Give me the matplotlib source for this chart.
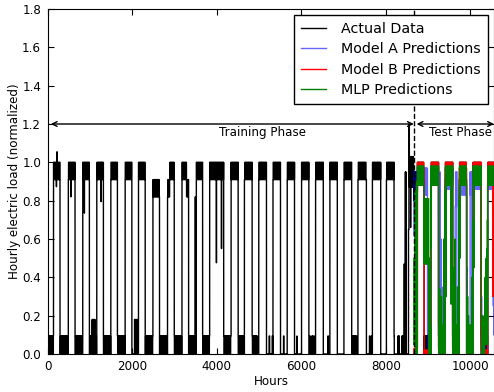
import numpy as np
import matplotlib
matplotlib.use("Agg")
import matplotlib.pyplot as plt

# ---- data (hours, normalized load) ----
n_hours = 10565
split_hour = 8666

# hour-of-day profile: 1 = daytime level, 0 = night level
day_profile = [0, 0, 0, 0, 0, 0, 0, 1, 1, 1, 1, 1, 1, 1, 1, 1, 1, 1, 1, 0, 0, 0, 0, 0]

# high-load weeks (start, end, night level, day level)
high_weeks = [
    (131, 285, 0.91, 1.0), (482, 641, 0.91, 1.0), (824, 981, 0.91, 1.0),
    (1156, 1313, 0.91, 1.0), (1489, 1645, 0.91, 1.0), (1828, 1987, 0.91, 1.0),
    (2144, 2303, 0.91, 1.0), (2486, 2642, 0.82, 0.91), (2832, 2880, 0.82, 0.91),
    (2880, 2991, 0.91, 1.0), (3174, 3280, 0.91, 1.0), (3280, 3331, 0.82, 0.91),
    (3514, 3663, 0.91, 1.0), (3830, 4162, 0.91, 1.0), (4338, 4505, 0.91, 1.0),
    (4653, 4836, 0.91, 1.0), (4993, 5176, 0.91, 1.0), (5330, 5508, 0.91, 1.0),
    (5667, 5840, 0.91, 1.0), (6007, 6180, 0.91, 1.0), (6339, 6522, 0.91, 1.0),
    (6678, 6854, 0.91, 1.0), (7011, 7194, 0.91, 1.0), (7343, 7543, 0.91, 1.0),
    (7685, 7882, 0.91, 1.0), (8017, 8198, 0.91, 1.0),
    (8466, 8480, 0.0, 0.95), (8540, 8560, 0.65, 1.2), (8560, 8666, 0.87, 1.03),
    (8666, 8753, 0.80, 0.95),
    (8753, 8910, 0.91, 1.0), (9069, 9252, 0.91, 1.0), (9409, 9585, 0.91, 1.0),
    (9741, 9917, 0.91, 1.0), (10074, 10257, 0.91, 1.0), (10415, 10565, 0.91, 1.0),
]

# low weeks with visible night/day swing (start, end, night, day); elsewhere flat 0
low_weeks = [
    (0, 131, 0.0, 0.094), (285, 482, 0.0, 0.094), (641, 824, 0.0, 0.094),
    (981, 1045, 0.0, 0.094), (1045, 1115, 0.0, 0.18), (1115, 1156, 0.0, 0.094),
    (1313, 1489, 0.0, 0.094), (1645, 1828, 0.0, 0.094), (2050, 2120, 0.0, 0.18),
    (2120, 2144, 0.0, 0.094), (2303, 2486, 0.0, 0.094), (2642, 2832, 0.0, 0.094),
    (2991, 3174, 0.0, 0.094), (3331, 3514, 0.0, 0.094), (3663, 3830, 0.0, 0.094),
    (4162, 4338, 0.0, 0.094), (4505, 4653, 0.0, 0.094), (4836, 4960, 0.0, 0.094),
    (5230, 5260, 0.0, 0.094), (5310, 5330, 0.0, 0.094), (5580, 5592, 0.0, 0.094),
    (5898, 5910, 0.0, 0.094), (6204, 6222, 0.0, 0.094), (6250, 6290, 0.0, 0.094),
    (6320, 6339, 0.0, 0.094), (6632, 6650, 0.0, 0.094), (7194, 7313, 0.0, 0.094),
    (7605, 7630, 0.0, 0.094), (7660, 7685, 0.0, 0.094), (8198, 8215, 0.0, 0.094),
    (8290, 8330, 0.0, 0.094), (8380, 8436, 0.0, 0.094),
    (8910, 9069, 0.0, 0.094), (9252, 9409, 0.0, 0.094), (9585, 9741, 0.0, 0.094),
    (9917, 10074, 0.0, 0.094), (10257, 10415, 0.0, 0.094),
]

# single-hour spikes and dips in the actual data (hour, value)
actual_spikes = [(200, 0.873), (214, 1.055), (546, 0.82), (862, 0.735),
                 (1258, 0.795), (3490, 0.82), (3990, 0.476), (4110, 0.55),
                 (8440, 0.47), (8590, 0.66)]

# model predictions over the test period (start, end, night, day)
model_a_bands = [
    (8666, 8753, 0.62, 0.95), (8753, 8910, 0.88, 0.97), (8910, 8990, 0.83, 0.97),
    (8990, 9069, 0.0, 0.04), (9069, 9252, 0.88, 0.97), (9252, 9409, 0.0, 0.04),
    (9409, 9585, 0.86, 0.97), (9585, 9645, 0.0, 0.04), (9645, 9685, 0.77, 0.95),
    (9685, 9741, 0.0, 0.04), (9741, 9917, 0.83, 0.95), (9917, 10000, 0.0, 0.04),
    (10000, 10040, 0.83, 0.95), (10040, 10074, 0.0, 0.04), (10074, 10257, 0.86, 0.97),
    (10257, 10415, 0.0, 0.05), (10415, 10565, 0.86, 0.97),
]
model_a_spikes = [(9005, 0.70), (9020, 0.45), (9040, 0.39), (9055, 0.25),
                  (9270, 0.79), (9290, 0.95), (9310, 0.6), (9330, 0.35),
                  (9600, 0.3), (9930, 0.45), (9950, 0.2), (10270, 0.3),
                  (10550, 0.25), (10560, 0.1)]

model_b_bands = [
    (8666, 8753, 0.0, 0.03), (8753, 8910, 0.97, 1.0), (8910, 9069, 0.0, 0.02),
    (9069, 9252, 0.97, 1.0), (9252, 9409, 0.0, 0.02), (9409, 9585, 0.97, 1.0),
    (9585, 9741, 0.0, 0.02), (9741, 9917, 0.97, 1.0), (9917, 10074, 0.0, 0.02),
    (10074, 10257, 0.97, 1.0), (10257, 10415, 0.0, 0.02), (10415, 10565, 0.97, 1.0),
]
model_b_spikes = [(10540, 0.3)]

mlp_bands = [
    (8666, 8713, 0.05, 0.5), (8713, 8753, 0.0, 0.85), (8753, 8910, 0.88, 0.98),
    (8910, 9030, 0.47, 0.81), (9030, 9069, 0.0, 0.15), (9069, 9252, 0.88, 0.98),
    (9252, 9409, 0.0, 0.15), (9409, 9585, 0.88, 0.98), (9585, 9741, 0.0, 0.15),
    (9741, 9917, 0.88, 0.98), (9917, 10074, 0.0, 0.15), (10074, 10257, 0.88, 0.98),
    (10257, 10340, 0.0, 0.15), (10340, 10415, 0.05, 0.4), (10415, 10565, 0.88, 0.98),
]
mlp_spikes = [(8700, 0.85), (8730, 0.9), (8745, 0.3), (9035, 0.5), (9050, 0.3),
              (9080, 0.55), (9280, 0.34), (9300, 0.2), (9320, 0.3), (9380, 0.6),
              (9400, 0.85), (9430, 0.3), (9550, 0.26), (9600, 0.45), (9620, 0.25),
              (9640, 0.6), (9700, 0.35), (9730, 0.8), (9760, 0.5), (9940, 0.3),
              (9960, 0.2), (10040, 0.4), (10060, 0.7), (10090, 0.45),
              (10300, 0.2), (10380, 0.5), (10400, 0.55), (10410, 0.7)]


def build(hours, bands, start_value=0.0):
    y = np.full(len(hours), start_value)
    prof = np.array(day_profile)[hours % 24]
    for s, e, lo, hi in bands:
        m = (hours >= s) & (hours < e)
        y[m] = np.where(prof[m] == 1, hi, lo)
    return y


def add_spikes(hours, y, spikes):
    for h, v in spikes:
        y[np.searchsorted(hours, h)] = v
    return y


hours = np.arange(n_hours)
actual = add_spikes(hours, build(hours, low_weeks + high_weeks), actual_spikes)

th = hours[hours >= split_hour]
model_a = add_spikes(th, build(th, model_a_bands), model_a_spikes)
model_b = add_spikes(th, build(th, model_b_bands), model_b_spikes)
mlp = add_spikes(th, build(th, mlp_bands), mlp_spikes)

# ---- plot ----
plt.rcParams['font.family'] = 'DejaVu Sans'
plt.rcParams['font.size'] = 8.6
plt.rcParams['path.simplify'] = False
fig = plt.figure(figsize=(4.94, 3.92), dpi=100)
ax = fig.add_axes([48 / 494, 38 / 392, 446 / 494, 345 / 392])

ax.plot(hours, actual, color='black', lw=1, label='Actual Data')
ax.plot(th, model_a, color='blue', lw=1, alpha=0.6, label='Model A Predictions')
ax.plot(th, model_b, color='red', lw=1, label='Model B Predictions')
ax.plot(th, mlp, color='green', lw=1, label='MLP Predictions')

ax.axvline(split_hour, color='black', ls='--', lw=1)
ax.annotate('', xy=(0, 1.2), xytext=(split_hour, 1.2),
            arrowprops=dict(arrowstyle='<->', color='black', lw=1,
                            shrinkA=0, shrinkB=2))
ax.annotate('', xy=(split_hour, 1.2), xytext=(n_hours, 1.2),
            arrowprops=dict(arrowstyle='<->', color='black', lw=1,
                            shrinkA=0, shrinkB=2), annotation_clip=False)
ax.text(5070, 1.19, 'Training Phase', ha='center', va='top')
ax.text(9030, 1.19, 'Test Phase', ha='left', va='top', clip_on=False)

ax.set_xlim(0, n_hours)
ax.set_ylim(0, 1.8)
ax.set_xticks([0, 2000, 4000, 6000, 8000, 10000])
ax.set_yticks(np.arange(0, 1.81, 0.2))
ax.yaxis.set_major_formatter(matplotlib.ticker.FormatStrFormatter('%.1f'))
ax.tick_params(direction='in', top=True, right=True, length=4)
ax.tick_params(axis='x', pad=4)
ax.tick_params(axis='y', pad=5)
ax.set_xlabel('Hours', labelpad=2)
ax.set_ylabel('Hourly electric load (normalized)', labelpad=1)

leg = ax.legend(loc='upper right', fontsize=10.3, fancybox=False,
                edgecolor='black', framealpha=1, handlelength=1.7,
                handletextpad=1.1, labelspacing=0.45, borderaxespad=0.4,
                borderpad=0.5)
leg.get_frame().set_linewidth(1)

fig.savefig('out.png', dpi=100)
